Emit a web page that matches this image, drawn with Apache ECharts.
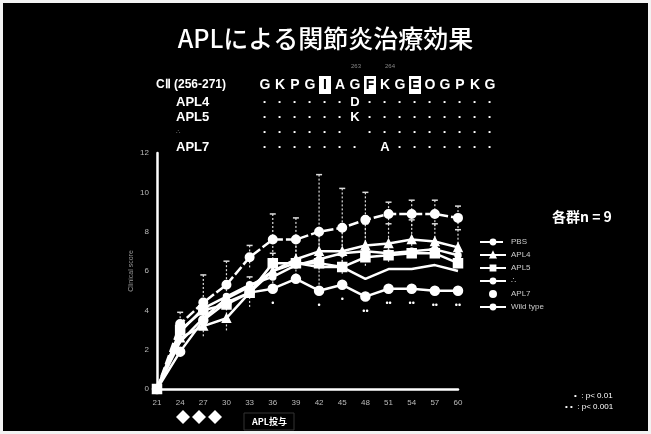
<!DOCTYPE html>
<html>
<head>
<meta charset="utf-8">
<script src="https://cdn.jsdelivr.net/npm/echarts@6/dist/echarts.min.js"></script>
<style>
  body { margin: 0; background: #f2f2f2; }
  #frame { position: absolute; left: 3px; top: 3px; width: 645px; height: 428px; background: #000; }
  #main { position: absolute; left: 0; top: 0; width: 651px; height: 434px; }
</style>
</head>
<body>
<div id="frame"></div>
<div id="main"></div>
<script>
// days after immunisation
const days = ['21', '24', '27', '30', '33', '36', '39', '42', '45', '48', '51', '54', '57', '60'];

const pbs      = [0, 3.3, 4.4, 5.3, 6.7, 7.6, 7.6, 8.0, 8.2, 8.6, 8.9, 8.9, 8.9, 8.7];
const pbsErr   = [0, 0.6, 1.4, 1.2, 0.6, 1.3, 1.1, 2.9, 2.0, 1.4, 0.6, 0.7, 0.7, 0.6];
const apl4     = [0, 2.6, 3.2, 3.6, 4.9, 6.0, 6.6, 7.0, 7.0, 7.3, 7.4, 7.6, 7.5, 7.2];
const apl4Err  = [0, 0.4, 0.6, 0.7, 0.8, 0.9, 0.9, 1.0, 1.2, 1.1, 1.0, 1.0, 0.9, 0.9];
const apl5     = [0, 3.0, 4.0, 4.3, 4.9, 6.4, 6.4, 6.4, 6.2, 6.7, 6.8, 6.9, 6.9, 6.4];
const apl6     = [0, 1.9, 3.5, 4.4, 4.9, 5.1, 5.6, 5.0, 5.3, 4.7, 5.1, 5.1, 5.0, 5.0];
const apl7     = [0, 2.9, 4.1, 4.7, 5.3, 5.7, 6.3, 6.6, 6.9, 7.0, 6.9, 7.0, 7.1, 6.8];
const wildType = [0, 2.4, 3.6, 4.6, 5.2, 6.0, 6.4, 6.2, 6.2, 5.6, 6.1, 6.1, 6.3, 6.0];
const sig      = ['', '', '', '', '', '•', '', '•', '•', '••', '••', '••', '••', '••'];

const yTicks = [0, 2, 4, 6, 8, 10, 12];

// CII (256-271) sequence and the analogue rows
const residues = ['G','K','P','G','I','A','G','F','K','G','E','O','G','P','K','G'];
const boxed = [4, 7, 10];
const aplRows = [
  { name: 'APL4', seq: '------D---------' },
  { name: 'APL5', seq: '------K---------' },
  { name: '∴',    seq: '------ ---------' },
  { name: 'APL7', seq: '------- A-------' }
];

const chart = echarts.init(document.getElementById('main'));

function errorBars(name, vals, errs) {
  return {
    name: name,
    type: 'custom',
    z: 1,
    silent: true,
    data: vals.map((v, i) => [i, v, errs[i]]),
    renderItem: function (params, api) {
      const i = api.value(0), v = api.value(1), e = api.value(2);
      if (!e) return;
      const hi = api.coord([i, v + e]);
      const lo = api.coord([i, v - e]);
      const st = { stroke: '#ddd', lineWidth: 1.2, lineDash: [2, 2] };
      return {
        type: 'group',
        children: [
          { type: 'line', shape: { x1: hi[0], y1: hi[1], x2: lo[0], y2: lo[1] }, style: st },
          { type: 'line', shape: { x1: hi[0] - 3, y1: hi[1], x2: hi[0] + 3, y2: hi[1] }, style: { stroke: '#ddd', lineWidth: 1.5 } }
        ]
      };
    }
  };
}

function line(name, data, symbol, size, dash) {
  return {
    name: name,
    type: 'line',
    data: data,
    symbol: symbol,
    symbolSize: size,
    showSymbol: symbol !== 'none',
    lineStyle: { color: '#fff', width: 2.5, type: dash || 'solid' },
    itemStyle: { color: '#fff', borderColor: '#fff', borderWidth: 1.5 },
    z: 3
  };
}

const graphics = [];
graphics.push({
  type: 'text', left: 'center', top: 26,
  style: { text: 'APLによる関節炎治療効果', fill: '#fff', font: '500 25px "Noto Sans CJK JP", sans-serif' }
});
graphics.push({
  type: 'text', x: 156, y: 85,
  style: { text: 'CⅡ (256-271)', fill: '#fff', font: 'bold 12px "Liberation Sans", sans-serif', verticalAlign: 'middle' }
});
residues.forEach((r, i) => {
  const x = 265 + 15 * i;
  if (boxed.includes(i)) {
    graphics.push({ type: 'rect', shape: { x: x - 6, y: 76, width: 12, height: 18 }, style: { fill: '#fff' } });
  }
  graphics.push({
    type: 'text', x: x, y: 85,
    style: { text: r, fill: boxed.includes(i) ? '#000' : '#fff', font: 'bold 14px "Liberation Sans", sans-serif', align: 'center', verticalAlign: 'middle' }
  });
});
graphics.push({ type: 'text', x: 356, y: 66, style: { text: '263', fill: '#888', font: '6px sans-serif', align: 'center', verticalAlign: 'middle' } });
graphics.push({ type: 'text', x: 390, y: 66, style: { text: '264', fill: '#888', font: '6px sans-serif', align: 'center', verticalAlign: 'middle' } });
aplRows.forEach((row, k) => {
  const y = 102 + 15 * k;
  const small = row.name === '∴';
  graphics.push({
    type: 'text', x: 176, y: y,
    style: { text: row.name, fill: small ? '#777' : '#fff', font: (small ? '7px' : 'bold 13px') + ' "Liberation Sans", sans-serif', verticalAlign: 'middle' }
  });
  row.seq.split('').forEach((c, i) => {
    if (c === ' ') return;
    const x = 265 + 15 * i;
    graphics.push({
      type: 'text', x: x, y: y,
      style: c === '-'
        ? { text: '·', fill: '#fff', font: 'bold 13px sans-serif', align: 'center', verticalAlign: 'middle' }
        : { text: c, fill: '#fff', font: 'bold 13px "Liberation Sans", sans-serif', align: 'center', verticalAlign: 'middle' }
    });
  });
});
graphics.push({
  type: 'text', x: 552, y: 217,
  style: { text: '各群n = 9', fill: '#fff', font: 'bold 14px "Noto Sans CJK JP", sans-serif', verticalAlign: 'middle' }
});
graphics.push({ type: 'text', x: 574, y: 396, style: { text: '•  : p< 0.01', fill: '#fff', font: '8px sans-serif', verticalAlign: 'middle' } });
graphics.push({ type: 'text', x: 565, y: 407, style: { text: '• •  : p< 0.001', fill: '#fff', font: '8px sans-serif', verticalAlign: 'middle' } });
[183, 199, 215].forEach(x => {
  graphics.push({ type: 'polygon', shape: { points: [[x, 410], [x + 7, 417], [x, 424], [x - 7, 417]] }, style: { fill: '#fff' } });
});
graphics.push({ type: 'rect', shape: { x: 244, y: 413, width: 50, height: 17 }, style: { fill: 'none', stroke: '#333', lineWidth: 1 } });
graphics.push({
  type: 'text', x: 252, y: 422,
  style: { text: 'APL投与', fill: '#fff', font: 'bold 9px "Noto Sans CJK JP", sans-serif', verticalAlign: 'middle' }
});

const option = {
  animation: false,
  backgroundColor: 'transparent',
  grid: { left: 157, right: 193, top: 153, bottom: 45 },
  xAxis: {
    type: 'category',
    data: days,
    boundaryGap: false,
    axisLine: { lineStyle: { color: '#fff', width: 2.5 } },
    axisTick: { show: false },
    axisLabel: { color: '#bbb', fontSize: 8, margin: 10 },
    splitLine: { show: false }
  },
  yAxis: {
    type: 'value',
    min: 0, max: 12, interval: 2,
    name: 'Clinical score',
    nameLocation: 'middle',
    nameGap: 22,
    nameTextStyle: { color: '#999', fontSize: 7 },
    axisLine: { show: true, lineStyle: { color: '#fff', width: 2.5 } },
    axisTick: { show: false },
    axisLabel: { color: '#bbb', fontSize: 8, margin: 8, formatter: v => yTicks.includes(v) ? String(v) : '' },
    splitLine: { show: false }
  },
  legend: {
    orient: 'vertical',
    left: 474, top: 233,
    itemWidth: 26, itemHeight: 6, itemGap: 5,
    textStyle: { color: '#ccc', fontSize: 8 },
    inactiveColor: '#fff',
    data: ['PBS', 'APL4', 'APL5', '∴', { name: 'APL7', icon: 'circle' }, 'Wild type']
  },
  graphic: graphics,
  series: [
    errorBars('pbsErr', pbs, pbsErr),
    errorBars('apl4Err', apl4, apl4Err),
    line('PBS', pbs, 'emptyCircle', 8, [10, 3]),
    line('APL4', apl4, 'triangle', 8),
    line('APL5', apl5, 'rect', 9),
    Object.assign(line('∴', apl6, 'circle', 9), {
      label: { show: true, position: 'bottom', distance: 5, color: '#fff', fontSize: 9,
               formatter: p => sig[p.dataIndex] }
    }),
    line('APL7', apl7, 'circle', 6),
    line('Wild type', wildType, 'none', 0)
  ]
};
chart.setOption(option);
</script>
</body>
</html>
